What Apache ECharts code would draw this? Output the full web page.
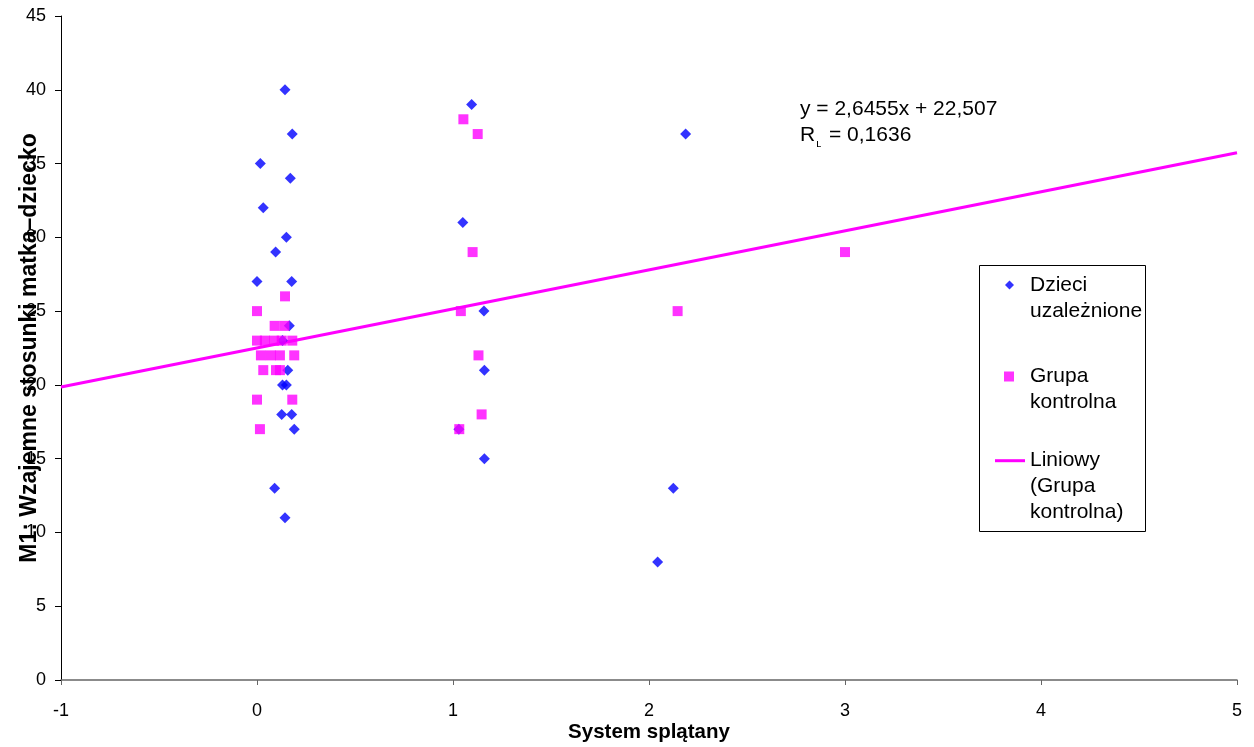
<!DOCTYPE html>
<html>
<head>
<meta charset="utf-8">
<script src="https://cdn.jsdelivr.net/npm/echarts@6/dist/echarts.min.js"></script>
<style>
  html, body { margin: 0; padding: 0; background: #ffffff; }
  #chart { width: 1254px; height: 747px; }
</style>
</head>
<body>
<div id="chart"></div>
<script>
// ---- Data ----
const seriesNames = ['Dzieci uzależnione', 'Grupa kontrolna', 'Liniowy (Grupa kontrolna)'];
const legendLabels = ['Dzieci\nuzależnione', 'Grupa\nkontrolna', 'Liniowy\n(Grupa\nkontrolna)'];

// Dzieci uzależnione (blue diamonds)
const blueX = [0.143, 0.18, 0.017, 0.17, 0.032, 0.15, 0.095, 0.0, 0.177, 0.165, 0.13, 0.157, 0.13, 0.15, 0.126, 0.177, 0.19, 0.09, 0.143,
               1.095, 1.05, 1.158, 1.16, 1.03, 1.16,
               2.187, 2.124, 2.044];
const blueY = [40, 37, 35, 34, 32, 30, 29, 27, 27, 24, 23, 21, 20, 20, 18, 18, 17, 13, 11,
               39, 31, 25, 21, 17, 15,
               37, 13, 8];

// Grupa kontrolna (magenta squares)
const pinkX = [0.143, 0.0, 0.09, 0.14, 0.0, 0.04, 0.087, 0.126, 0.18, 0.02, 0.07, 0.117, 0.19, 0.032, 0.097, 0.117, 0.0, 0.18, 0.015,
               1.053, 1.126, 1.1, 1.04, 1.13, 1.146, 1.032,
               2.146, 3.0];
const pinkY = [26, 25, 24, 24, 23, 23, 23, 23, 23, 22, 22, 22, 22, 21, 21, 21, 19, 19, 17,
               38, 37, 29, 25, 22, 18, 17,
               25, 29];

// Linear trend shown on the chart: y = 2,6455x + 22,507
const trendSlope = 2.6455;
const trendIntercept = 22.507;
const trendXRange = [-1, 5];
const equationLine1 = 'y = 2,6455x + 22,507';
const equationR = 'R';
const equationRMark = 'ւ';
const equationLine2 = '= 0,1636';

const xAxisTitle = 'System splątany';
const yAxisTitle = 'M1: Wzajemne stosunki matka–dziecko';

// ---- Build ----
const FONT = '"Liberation Sans", Arial, Helvetica, sans-serif';
const blueData = blueX.map((x, i) => [x, blueY[i]]);
const pinkData = pinkX.map((x, i) => [x, pinkY[i]]);
const trendData = trendXRange.map(x => [x, trendSlope * x + trendIntercept]);

const LH = 26;
const TEXT_X = 1030;   // where legend text starts
function legendFor(idx, centerX, centerY, cfg) {
  const lines = legendLabels[idx].split('\n');
  const n = lines.length;
  const left = centerX - cfg.itemWidth / 2;
  const padLeft = Math.max(0, TEXT_X - (left + cfg.itemWidth + 5));
  // blank lines above keep the first text line centred on the icon
  const all = new Array(n - 1).fill(' ').concat(lines);
  const text = all.map(l => '{t|' + l + '}').join('\n');
  return {
    show: true,
    left: left,
    top: centerY - (2 * n - 1) * LH / 2,
    orient: 'vertical',
    padding: 0,
    itemWidth: cfg.itemWidth,
    itemHeight: cfg.itemHeight,
    selectedMode: false,
    formatter: () => text,
    textStyle: {
      fontFamily: FONT, fontSize: 21, lineHeight: LH, color: '#000',
      rich: { t: { fontFamily: FONT, fontSize: 21, lineHeight: LH, color: '#000', padding: [0, 0, 0, padLeft] } }
    },
    data: [{ name: seriesNames[idx], icon: cfg.icon }]
  };
}

const chart = echarts.init(document.getElementById('chart'), null, { renderer: 'canvas' });
chart.setOption({
  animation: false,
  backgroundColor: '#ffffff',
  grid: { left: 61, right: 17, top: 16, bottom: 67, containLabel: false, outerBoundsMode: 'none' },
  xAxis: {
    type: 'value',
    min: -1, max: 5, interval: 1,
    name: xAxisTitle,
    nameLocation: 'middle',
    nameGap: 42,
    nameMoveOverlap: false,
    nameTextStyle: { fontFamily: FONT, fontSize: 20.5, fontWeight: 'bold', color: '#000' },
    axisLine: { show: true, onZero: false, lineStyle: { color: '#666', width: 1.5 } },
    axisTick: { show: true, inside: false, length: 5, lineStyle: { color: '#666' } },
    axisLabel: { fontFamily: FONT, fontSize: 18, color: '#000', margin: 22 },
    splitLine: { show: false }
  },
  yAxis: {
    type: 'value',
    min: 0, max: 45, interval: 5,
    name: yAxisTitle,
    nameLocation: 'middle',
    nameRotate: 90,
    nameGap: 20,
    nameMoveOverlap: false,
    nameTextStyle: { fontFamily: FONT, fontSize: 23, fontWeight: 'bold', color: '#000' },
    axisLine: { show: true, onZero: false, lineStyle: { color: '#000', width: 1 } },
    axisTick: { show: true, inside: false, length: 6, lineStyle: { color: '#000' } },
    axisLabel: { fontFamily: FONT, fontSize: 18, color: '#000', margin: 15 },
    splitLine: { show: false }
  },
  legend: [
    legendFor(0, 1009.5, 285, { icon: 'diamond', itemWidth: 9, itemHeight: 9 }),
    legendFor(1, 1009, 376.5, { icon: 'rect', itemWidth: 10, itemHeight: 10 }),
    legendFor(2, 1010, 460.7, { icon: 'rect', itemWidth: 30, itemHeight: 3 })
  ],
  series: [
    {
      name: seriesNames[0],
      type: 'scatter',
      symbol: 'diamond',
      symbolSize: 11,
      itemStyle: { color: '#0000FF' },
      data: blueData,
      z: 3
    },
    {
      name: seriesNames[1],
      type: 'scatter',
      symbol: 'rect',
      symbolSize: 10,
      itemStyle: { color: '#FF00FF' },
      data: pinkData,
      z: 4
    },
    {
      name: seriesNames[2],
      type: 'line',
      symbol: 'none',
      showSymbol: false,
      lineStyle: { color: '#FF00FF', width: 3 },
      itemStyle: { color: '#FF00FF' },
      data: trendData,
      z: 2
    }
  ],
  graphic: [
    {
      type: 'rect',
      shape: { x: 979.5, y: 265.5, width: 166, height: 266 },
      style: { fill: 'none', stroke: '#000', lineWidth: 1 },
      silent: true
    },
    {
      type: 'text', x: 800, y: 109,
      style: { text: equationLine1, fontFamily: FONT, fontSize: 21, fill: '#000', verticalAlign: 'middle', align: 'left' }
    },
    {
      type: 'text', x: 800, y: 135,
      style: { text: equationR, fontFamily: FONT, fontSize: 21, fill: '#000', verticalAlign: 'middle', align: 'left' }
    },
    {
      type: 'text', x: 816, y: 144,
      style: { text: equationRMark, fontFamily: FONT, fontSize: 11, fill: '#000', verticalAlign: 'middle', align: 'left' }
    },
    {
      type: 'text', x: 829, y: 135,
      style: { text: equationLine2, fontFamily: FONT, fontSize: 21, fill: '#000', verticalAlign: 'middle', align: 'left' }
    }
  ]
});
</script>
</body>
</html>
